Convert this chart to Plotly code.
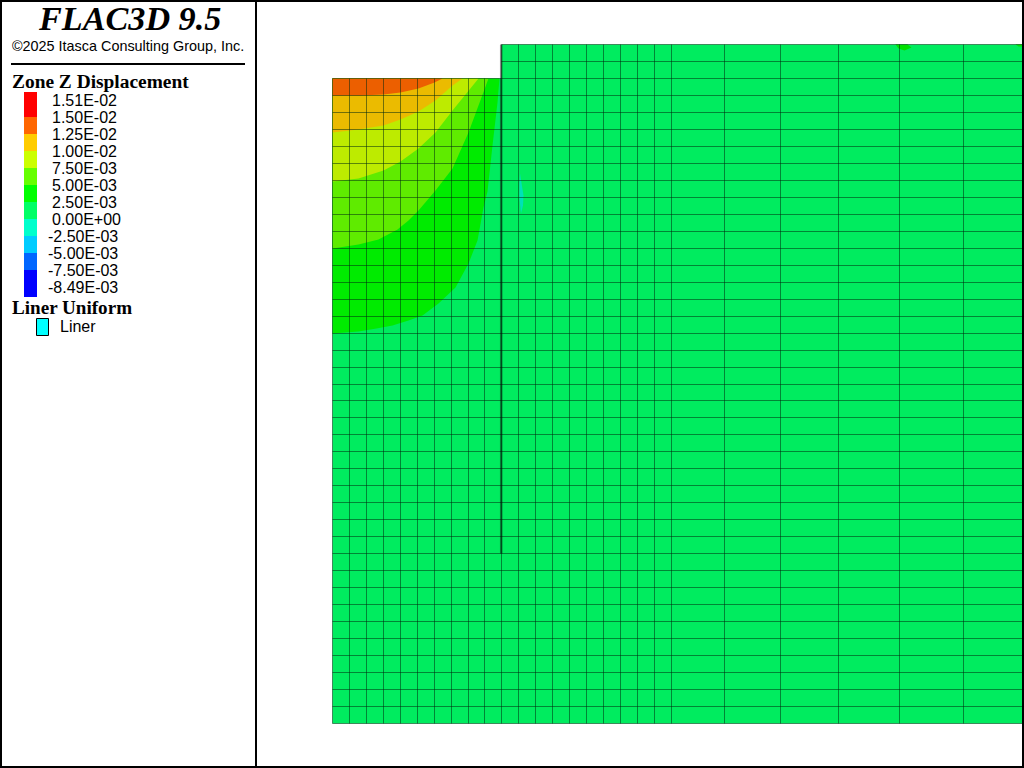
import plotly.graph_objects as go

# Mesh positions in model units (origin: lower-left corner of the grid)
mesh_x = [0, 17, 34, 51, 68, 85, 102, 119, 136, 152, 169, 186, 203, 220, 237, 254, 271, 288,
          305, 322, 339, 392, 448, 506, 567, 631, 690]
mesh_y = [0, 17, 34, 51, 68, 85, 102, 119, 136, 153, 170, 187, 204, 221, 238, 255, 272, 289,
          306, 323, 339, 356, 373, 390, 407, 424, 441, 458, 475, 492, 509, 526, 543, 560, 577,
          594, 611, 628, 645, 662, 679]
pit_floor_y = 645
pit_wall_x = 169
liner_bottom_y = 170

# Contour band outlines (x, y) along the pit floor region, outermost first
band_colors = ["#00EB00", "#5FEB00", "#BDEB00", "#EBBB00", "#EC5F00"]
band_x = [
    [0, 26, 44, 60, 76, 90, 106, 123, 136, 145, 151, 155, 160, 165, 167],
    [0, 26, 46, 65, 76, 86, 103, 120, 136, 146, 156],
    [0, 26, 51, 68, 86, 103, 120, 136, 146],
    [0, 26, 51, 68, 86, 103, 120, 130],
    [0, 28, 51, 68, 86, 102, 110],
]
band_y = [
    [390, 392, 395, 398, 403, 408, 420, 436, 460, 483, 516, 532, 578, 621, 645],
    [475, 479, 484, 494, 503, 513, 533, 555, 591, 617, 645],
    [542, 545, 553, 562, 575, 591, 613, 633, 645],
    [591, 594, 598, 604, 612, 623, 638, 645],
    [628, 628, 629, 631, 635, 641, 645],
]

# Small patches on the mesh
sliver_x = [187.5, 189, 191, 190.5, 188.5, 187, 187]
sliver_y = [550, 540, 528, 518, 510, 525, 540]
spot_x = [563, 566, 572, 579, 575, 568]
spot_y = [679, 675, 673, 676, 679, 679]
corner_x = [683, 686, 690, 690]
corner_y = [679, 677, 677, 679]

# Legend contents
title_text = "FLAC3D 9.5"
copyright_text = "©2025 Itasca Consulting Group, Inc."
legend_title = "Zone Z Displacement"
legend_labels = ["1.51E-02", "1.50E-02", "1.25E-02", "1.00E-02", "7.50E-03", "5.00E-03",
                 "2.50E-03", "0.00E+00", "-2.50E-03", "-5.00E-03", "-7.50E-03", "-8.49E-03"]
legend_colors = ["#FF0000", "#FF6600", "#FFCC00", "#CCFF00", "#66FF00", "#00FF00",
                 "#00FF66", "#00FFCC", "#00CCFF", "#0066FF", "#0000FF"]
liner_title = "Liner Uniform"
liner_label = "Liner"

W, H = 1024, 768
MESH_COLOR = "#00EC5F"
LINE_COLOR = "rgba(0,40,15,0.52)"
FX = lambda p: p / W
FY = lambda p: 1 - p / H

fig = go.Figure()

left, right = mesh_x[0], mesh_x[-1]
bottom, top = mesh_y[0], mesh_y[-1]


def poly(xs, ys, color):
    fig.add_trace(go.Scatter(x=xs, y=ys, mode="lines", fill="toself", fillcolor=color,
                             line=dict(width=0, color=color), hoverinfo="skip", showlegend=False))


poly([left, pit_wall_x, pit_wall_x, right, right, left],
     [pit_floor_y, pit_floor_y, top, top, bottom, bottom], MESH_COLOR)

for xs, ys, c in zip(band_x, band_y, band_colors):
    poly(xs + [left], ys + [pit_floor_y], c)

poly(sliver_x, sliver_y, "#00E0B8")
poly(spot_x, spot_y, "#00E000")
poly(corner_x, corner_y, "#00E000")

# Mesh lines
lx, ly = [], []
for x in mesh_x:
    y1 = top if x >= pit_wall_x else pit_floor_y
    lx += [x, x, None]
    ly += [bottom, y1, None]
for y in mesh_y:
    x0 = pit_wall_x if y > pit_floor_y else left
    lx += [x0, right, None]
    ly += [y, y, None]
fig.add_trace(go.Scatter(x=lx, y=ly, mode="lines", line=dict(color=LINE_COLOR, width=1),
                         hoverinfo="skip", showlegend=False))

# Liner
fig.add_trace(go.Scatter(x=[pit_wall_x - 0.3, pit_wall_x - 0.3], y=[liner_bottom_y, top], mode="lines",
                         line=dict(color="rgba(0,0,0,0.45)", width=2.5),
                         hoverinfo="skip", showlegend=False))

shapes = []


def rect(x0, y0, x1, y1, fill, line=None, lw=0):
    shapes.append(dict(type="rect", xref="paper", yref="paper", x0=FX(x0), x1=FX(x1), y0=FY(y0), y1=FY(y1),
                       fillcolor=fill, line=dict(width=lw, color=line or fill), layer="above"))


# Frame
rect(0, 0, 2, H, "black")
rect(0, 0, W, 2, "black")
rect(W - 2, 0, W, H, "black")
rect(0, H - 2, W, H, "black")
rect(255, 0, 257, H, "black")
rect(11, 63, 245, 65, "black")

# Colour key
block_edges = [92, 117, 134, 151, 168, 185, 202, 219, 236, 253, 270, 297]
for i, c in enumerate(legend_colors):
    rect(24, block_edges[i], 37, block_edges[i + 1], c)
rect(36.5, 318.5, 48.5, 335.5, "#00FFFF", "black", 1)

ann = []


def text(x, y, s, size, family, color="black", anchor="left", bold=False, italic=False):
    ann.append(dict(xref="paper", yref="paper", x=FX(x), y=FY(y), text=s, showarrow=False,
                    xanchor=anchor, yanchor="middle", align=anchor,
                    font=dict(size=size, family=family, color=color,
                              weight="bold" if bold else "normal",
                              style="italic" if italic else "normal")))


SERIF = "Liberation Serif"
SANS = "Liberation Sans"
text(129, 18.5, title_text, 34.2, SERIF, anchor="center", bold=True, italic=True)
text(128, 46, copyright_text, 14.4, SANS, anchor="center")
text(10, 81.5, legend_title, 19.4, SERIF, bold=True)
for i, lab in enumerate(legend_labels):
    text(46 if lab.startswith("-") else 50, 100.5 + 17 * i, lab, 16, SANS)
text(10, 307.5, liner_title, 19.1, SERIF, bold=True)
text(58, 326.5, liner_label, 16, SANS)

fig.update_layout(
    width=W, height=H, margin=dict(l=0, r=0, t=0, b=0, pad=0),
    paper_bgcolor="white", plot_bgcolor="white", showlegend=False,
    xaxis=dict(visible=False, range=[-332.5, 691.5], fixedrange=True),
    yaxis=dict(visible=False, range=[-44.5, 723.5], fixedrange=True),
    shapes=shapes, annotations=ann, hovermode=False,
)
fig.write_html("out.html", config=dict(displayModeBar=False),
               post_script="document.body.style.margin='0';document.documentElement.style.overflow='hidden';")
